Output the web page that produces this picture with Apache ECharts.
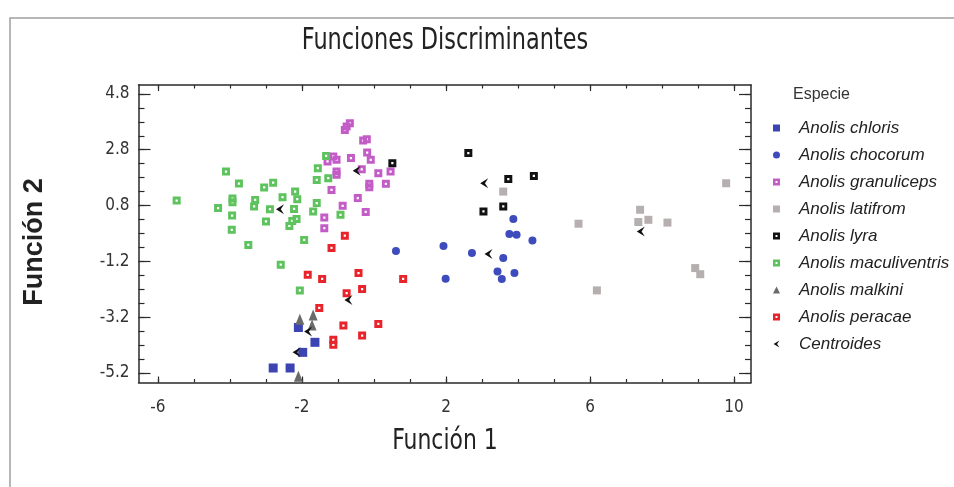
<!DOCTYPE html>
<html><head><meta charset="utf-8">
<script src="https://cdn.jsdelivr.net/npm/echarts@6/dist/echarts.min.js"></script>
<style>html,body{margin:0;padding:0;background:#fff}#c{width:954px;height:487px}</style>
</head><body><div id="c"></div>
<script>
// ---- tick labels ----
const xLabelValues = [-6, -2, 2, 6, 10];
const xMinorTicks = [-6, -5, -4, -3, -2, -1, 0, 1, 2, 3, 4, 5, 6, 7, 8, 9, 10];
const yLabelValues = [-5.2, -3.2, -1.2, 0.8, 2.8, 4.8];
const yMinorTicks = [-5.2, -4.7, -4.2, -3.7, -3.2, -2.7, -2.2, -1.7, -1.2, -0.7, -0.2, 0.3, 0.8, 1.3, 1.8, 2.3, 2.8, 3.3, 3.8, 4.3, 4.8];

// ---- texts ----
const chartTitle = 'Funciones Discriminantes';
const xName = 'Función 1';
const yName = 'Función 2';
const legendTitle = 'Especie';
const speciesNames = ['Anolis chloris', 'Anolis chocorum', 'Anolis granuliceps', 'Anolis latifrom', 'Anolis lyra', 'Anolis maculiventris', 'Anolis malkini', 'Anolis peracae', 'Centroides'];

// ---- data (Función 1, Función 2) ----
const chlorisData = [[-2.10, -3.57], [-1.64, -4.10], [-1.98, -4.46], [-2.80, -5.02], [-2.33, -5.02]];
const chocorumData = [[0.61, -0.83], [1.93, -0.65], [2.72, -0.90], [3.87, 0.32], [3.76, -0.22], [3.96, -0.25], [4.40, -0.45], [3.59, -1.08], [3.43, -1.56], [3.55, -1.83], [3.90, -1.62], [1.99, -1.82]];
const granulicepsData = [[-0.76, 3.63], [-0.67, 3.75], [-0.81, 3.51], [-0.30, 3.13], [-0.20, 3.18], [-0.19, 2.70], [-0.09, 2.44], [-1.13, 2.56], [-1.04, 2.44], [-1.29, 2.38], [-0.64, 2.50], [-1.04, 2.02], [-1.04, 1.90], [-0.34, 2.10], [0.12, 1.96], [0.46, 2.02], [-0.13, 1.58], [-0.13, 1.46], [0.33, 1.58], [-1.18, 1.36], [-0.45, 1.07], [-0.87, 0.79], [-0.23, 0.57], [-1.38, 0.37], [-1.38, -0.01]];
const latifromData = [[3.59, 1.30], [5.68, 0.15], [7.39, 0.65], [7.34, 0.21], [7.62, 0.29], [8.15, 0.19], [9.78, 1.60], [8.92, -1.44], [9.06, -1.66], [6.19, -2.24]];
const lyraData = [[0.51, 2.32], [2.62, 2.68], [3.73, 1.75], [4.44, 1.86], [3.04, 0.59], [3.59, 0.77]];
const maculiventrisData = [[-5.48, 0.98], [-4.11, 2.02], [-3.75, 1.59], [-4.33, 0.71], [-3.93, 0.92], [-3.93, 1.05], [-3.94, 0.44], [-3.95, -0.07], [-3.49, -0.61], [-3.30, 1.00], [-3.33, 0.77], [-3.05, 1.45], [-2.80, 1.62], [-2.89, 0.67], [-3.00, 0.23], [-2.54, 1.10], [-2.19, 1.30], [-2.13, 1.03], [-2.22, 0.68], [-2.15, 0.32], [-2.35, 0.07], [-2.27, 0.25], [-1.94, -0.43], [-1.69, 0.59], [-1.59, 0.89], [-1.59, 1.72], [-1.56, 2.14], [-1.27, 1.78], [-1.33, 2.58], [-0.93, 0.47], [-2.59, -1.32], [-2.06, -2.24]];
const malkiniData = [[-2.06, -3.27], [-1.69, -3.12], [-1.72, -3.48], [-2.10, -5.32]];
const peracaeData = [[-0.81, -0.28], [-1.18, -0.72], [-1.84, -1.68], [-1.44, -1.83], [-0.43, -1.62], [0.81, -1.83], [-0.76, -2.34], [-0.33, -2.19], [-1.52, -2.87], [-0.85, -3.50], [0.12, -3.44], [-0.33, -3.86], [-1.13, -4.01], [-1.13, -4.19]];
const centroidData = [[-2.15, -4.46], [3.18, -0.94], [-0.48, 2.05], [7.41, -0.13], [3.06, 1.60], [-2.61, 0.67], [-1.83, -3.71], [-0.71, -2.58]];

const X_MIN = -6.54, X_MAX = 10.47, Y_MIN = -5.54, Y_MAX = 5.12;
const COND = "'DejaVu Sans Condensed','Liberation Sans Narrow','Liberation Sans',sans-serif";
const SANS = "'Liberation Sans',Arial,sans-serif";
const AX = '#2a2a2a';
const HOLLOW_SQ = 'path://M0,0 L10,0 L10,10 L0,10 Z M3.6,3.6 L3.6,6.4 L6.4,6.4 L6.4,3.6 Z';
const ARROW = 'path://M10,0 L0,6 L10,12 L6,6 Z';

function xAxisDef(pos, ticks, len, main) {
  return {
    type: 'value', gridIndex: 0, position: pos, min: X_MIN, max: X_MAX,
    axisLine: { show: main, onZero: false, lineStyle: { color: AX, width: 1.5 } },
    axisTick: { show: true, inside: true, length: len, customValues: ticks, lineStyle: { color: AX, width: 1.2 } },
    axisLabel: (pos === 'bottom' && main) ? { show: true, customValues: xLabelValues, fontFamily: COND, fontSize: 17, color: '#333', margin: 17 } : { show: false },
    splitLine: { show: false }
  };
}
function yAxisDef(pos, ticks, len, main) {
  return {
    type: 'value', gridIndex: 0, position: pos, min: Y_MIN, max: Y_MAX,
    axisLine: { show: main, onZero: false, lineStyle: { color: AX, width: 1.5 } },
    axisTick: { show: true, inside: true, length: len, customValues: ticks, lineStyle: { color: AX, width: 1.2 } },
    axisLabel: (pos === 'left' && main) ? { show: true, customValues: yLabelValues, fontFamily: COND, fontSize: 17, color: '#333', margin: 9 } : { show: false },
    splitLine: { show: false }
  };
}

function sq(name, data, color, symbol, size) {
  return {
    name: name, type: 'scatter', xAxisIndex: 0, yAxisIndex: 0, data: data,
    symbol: symbol, symbolSize: size, silent: true,
    itemStyle: { color: color, borderWidth: 0, opacity: 1 }
  };
}

const legendData = speciesNames.map(n => ({ name: n }));

const option = {
  backgroundColor: '#fff',
  animation: false,
  grid: { left: 138.5, right: 203, top: 85, bottom: 104.5, containLabel: false },
  xAxis: [
    xAxisDef('bottom', xLabelValues, 6, true),
    xAxisDef('bottom', xMinorTicks, 3.5, false),
    xAxisDef('top', xLabelValues, 6, true),
    xAxisDef('top', xMinorTicks, 3.5, false)
  ],
  yAxis: [
    yAxisDef('left', yLabelValues, 12, true),
    yAxisDef('left', yMinorTicks, 6, false),
    yAxisDef('right', yLabelValues, 12, true),
    yAxisDef('right', yMinorTicks, 6, false)
  ],
  legend: {
    orient: 'vertical', left: 768, top: 113,
    itemWidth: 7, itemHeight: 7, itemGap: 7,
    selectedMode: false,
    data: legendData,
    textStyle: { fontFamily: SANS, fontStyle: 'italic', fontSize: 17, lineHeight: 20, color: '#222', padding: [0, 0, 0, 14] }
  },
  graphic: [
    { type: 'rect', shape: { x: 10, y: 18, width: 980, height: 520 }, style: { fill: 'none', stroke: '#a0a0a0', lineWidth: 1.5 }, silent: true, z: -10 },
    { type: 'text', x: 445, y: 41, scaleX: 0.83, style: { text: chartTitle, font: "30px " + COND, fill: '#222', textAlign: 'center', textVerticalAlign: 'middle' } },
    { type: 'text', x: 445, y: 441, scaleX: 0.84, style: { text: xName, font: "29px " + COND, fill: '#222', textAlign: 'center', textVerticalAlign: 'middle' } },
    { type: 'text', x: 35, y: 242, rotation: Math.PI / 2, style: { text: yName, font: "bold 27px " + SANS, fill: '#222', textAlign: 'center', textVerticalAlign: 'middle' } },
    { type: 'text', x: 793, y: 95, style: { text: legendTitle, font: "16px " + SANS, fill: '#333', textAlign: 'left', textVerticalAlign: 'middle' } }
  ],
  series: [
    sq(speciesNames[0], chlorisData, '#3c44b2', 'rect', 9),
    sq(speciesNames[1], chocorumData, '#3e4bbd', 'circle', 8),
    sq(speciesNames[2], granulicepsData, '#c35cc6', HOLLOW_SQ, 8),
    sq(speciesNames[3], latifromData, '#b6afaf', 'rect', 8),
    sq(speciesNames[4], lyraData, '#111', HOLLOW_SQ, 8),
    sq(speciesNames[5], maculiventrisData, '#5ec35e', HOLLOW_SQ, 8),
    sq(speciesNames[6], malkiniData, '#6a6a6a', 'triangle', [9, 11]),
    sq(speciesNames[7], peracaeData, '#e8232a', HOLLOW_SQ, 8),
    sq(speciesNames[8], centroidData, '#111', ARROW, [8, 10])
  ]
};

const chart = echarts.init(document.getElementById('c'), null, { renderer: 'canvas' });
chart.setOption(option);
</script>
</body></html>
